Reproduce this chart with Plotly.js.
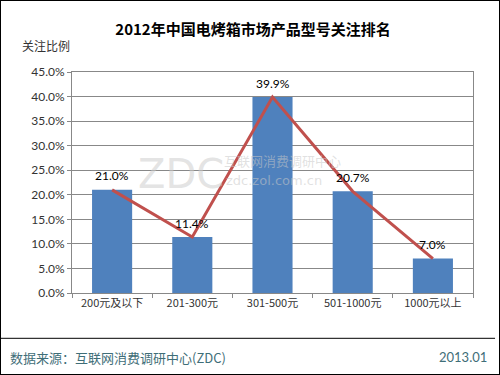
<!DOCTYPE html>
<html><head><meta charset="utf-8">
<script src="https://cdn.plot.ly/plotly-3.0.1.min.js"></script>
<style>body{margin:0;padding:0;background:#fff}#wrap{position:relative;width:500px;height:375px}
#frame{position:absolute;left:0;top:0;width:498px;height:373px;border:1px solid #000;pointer-events:none}</style>
</head><body><div id="wrap"><div id="chart" style="width:500px;height:375px"></div><div id="frame"></div></div>
<script>
const categories = ['200元及以下','201-300元','301-500元','501-1000元','1000元以上'];
const values = [21.0, 11.4, 39.9, 20.7, 7.0];
const labels = ['21.0%','11.4%','39.9%','20.7%','7.0%'];
const yTicks = [0,5,10,15,20,25,30,35,40,45];
const yTickText = ['0.0%','5.0%','10.0%','15.0%','20.0%','25.0%','30.0%','35.0%','40.0%','45.0%'];
const cjk = '"Noto Sans CJK SC", "DejaVu Sans", sans-serif';
const num = 'Lato, "DejaVu Sans", sans-serif';
const data = [
  {type:'bar', x:categories, y:values, marker:{color:'#4f81bd'}, hoverinfo:'skip'},
  {type:'scatter', mode:'lines', x:categories, y:values, line:{color:'#c0504d', width:3}, cliponaxis:false}
];
const labelAnns = categories.map((c,i)=>({x:c, y:values[i], xref:'x', yref:'y', text:labels[i], showarrow:false,
  yshift:14, xanchor:'center', yanchor:'middle', font:{family:num, size:12, color:'#000'}}));
const layout = {
  width:500, height:375, showlegend:false,
  margin:{l:72, r:27, t:72, b:82},
  paper_bgcolor:'#fff', plot_bgcolor:'#fff',
  bargap:0.5,
  title:{text:'2012年中国电烤箱市场产品型号关注排名', font:{family:cjk, size:15, color:'#000', weight:'bold'}, x:0.506, xanchor:'center', y:0.92, yanchor:'middle'},
  xaxis:{type:'category', showgrid:false, showline:true, linecolor:'#888', ticks:'outside', ticklen:4, tickcolor:'#888',
    tickson:'boundaries', tickfont:{family:cjk, size:11, color:'#333'}, mirror:true, fixedrange:true},
  yaxis:{range:[0,45], tickvals:yTicks, ticktext:yTickText, showgrid:true, gridcolor:'#888', gridwidth:1,
    showline:true, linecolor:'#888', mirror:true, ticks:'outside', ticklen:4, tickcolor:'#888', zeroline:false,
    tickfont:{family:num, size:12, color:'#333'}, fixedrange:true},
  shapes:[{type:'line', xref:'paper', yref:'paper', x0:-0.18, x1:1.055, y0:-0.205, y1:-0.205, line:{color:'#000', width:1}}],
  annotations:[
    {text:'关注比例', xref:'paper', yref:'paper', x:-0.13, y:1.12, xanchor:'left', yanchor:'middle', showarrow:false, font:{family:cjk, size:12, color:'#333'}},
    {text:'ZDC', xref:'paper', yref:'paper', x:0.16, y:0.54, xanchor:'left', yanchor:'middle', showarrow:false, font:{family:'"DejaVu Sans", sans-serif', size:40, color:'rgba(205,205,205,0.55)'}},
    {text:'互联网消费调研中心', xref:'paper', yref:'paper', x:0.375, y:0.6, xanchor:'left', yanchor:'middle', showarrow:false, font:{family:cjk, size:13, color:'rgba(200,200,200,0.55)'}},
    {text:'zdc.zol.com.cn', xref:'paper', yref:'paper', x:0.38, y:0.51, xanchor:'left', yanchor:'middle', showarrow:false, font:{family:'"DejaVu Sans", sans-serif', size:13, color:'rgba(200,200,200,0.55)'}},
    {text:'数据来源：互联网消费调研中心(ZDC)', xref:'paper', yref:'paper', x:-0.16, y:-0.29, xanchor:'left', yanchor:'middle', showarrow:false, font:{family:cjk, size:13, color:'#3f6e78'}},
    {text:'2013.01', xref:'paper', yref:'paper', x:1.04, y:-0.29, xanchor:'right', yanchor:'middle', showarrow:false, font:{family:num, size:13, color:'#3f6e78'}}
  ].concat(labelAnns)
};
Plotly.newPlot('chart', data, layout, {staticPlot:true});
</script></body></html>
